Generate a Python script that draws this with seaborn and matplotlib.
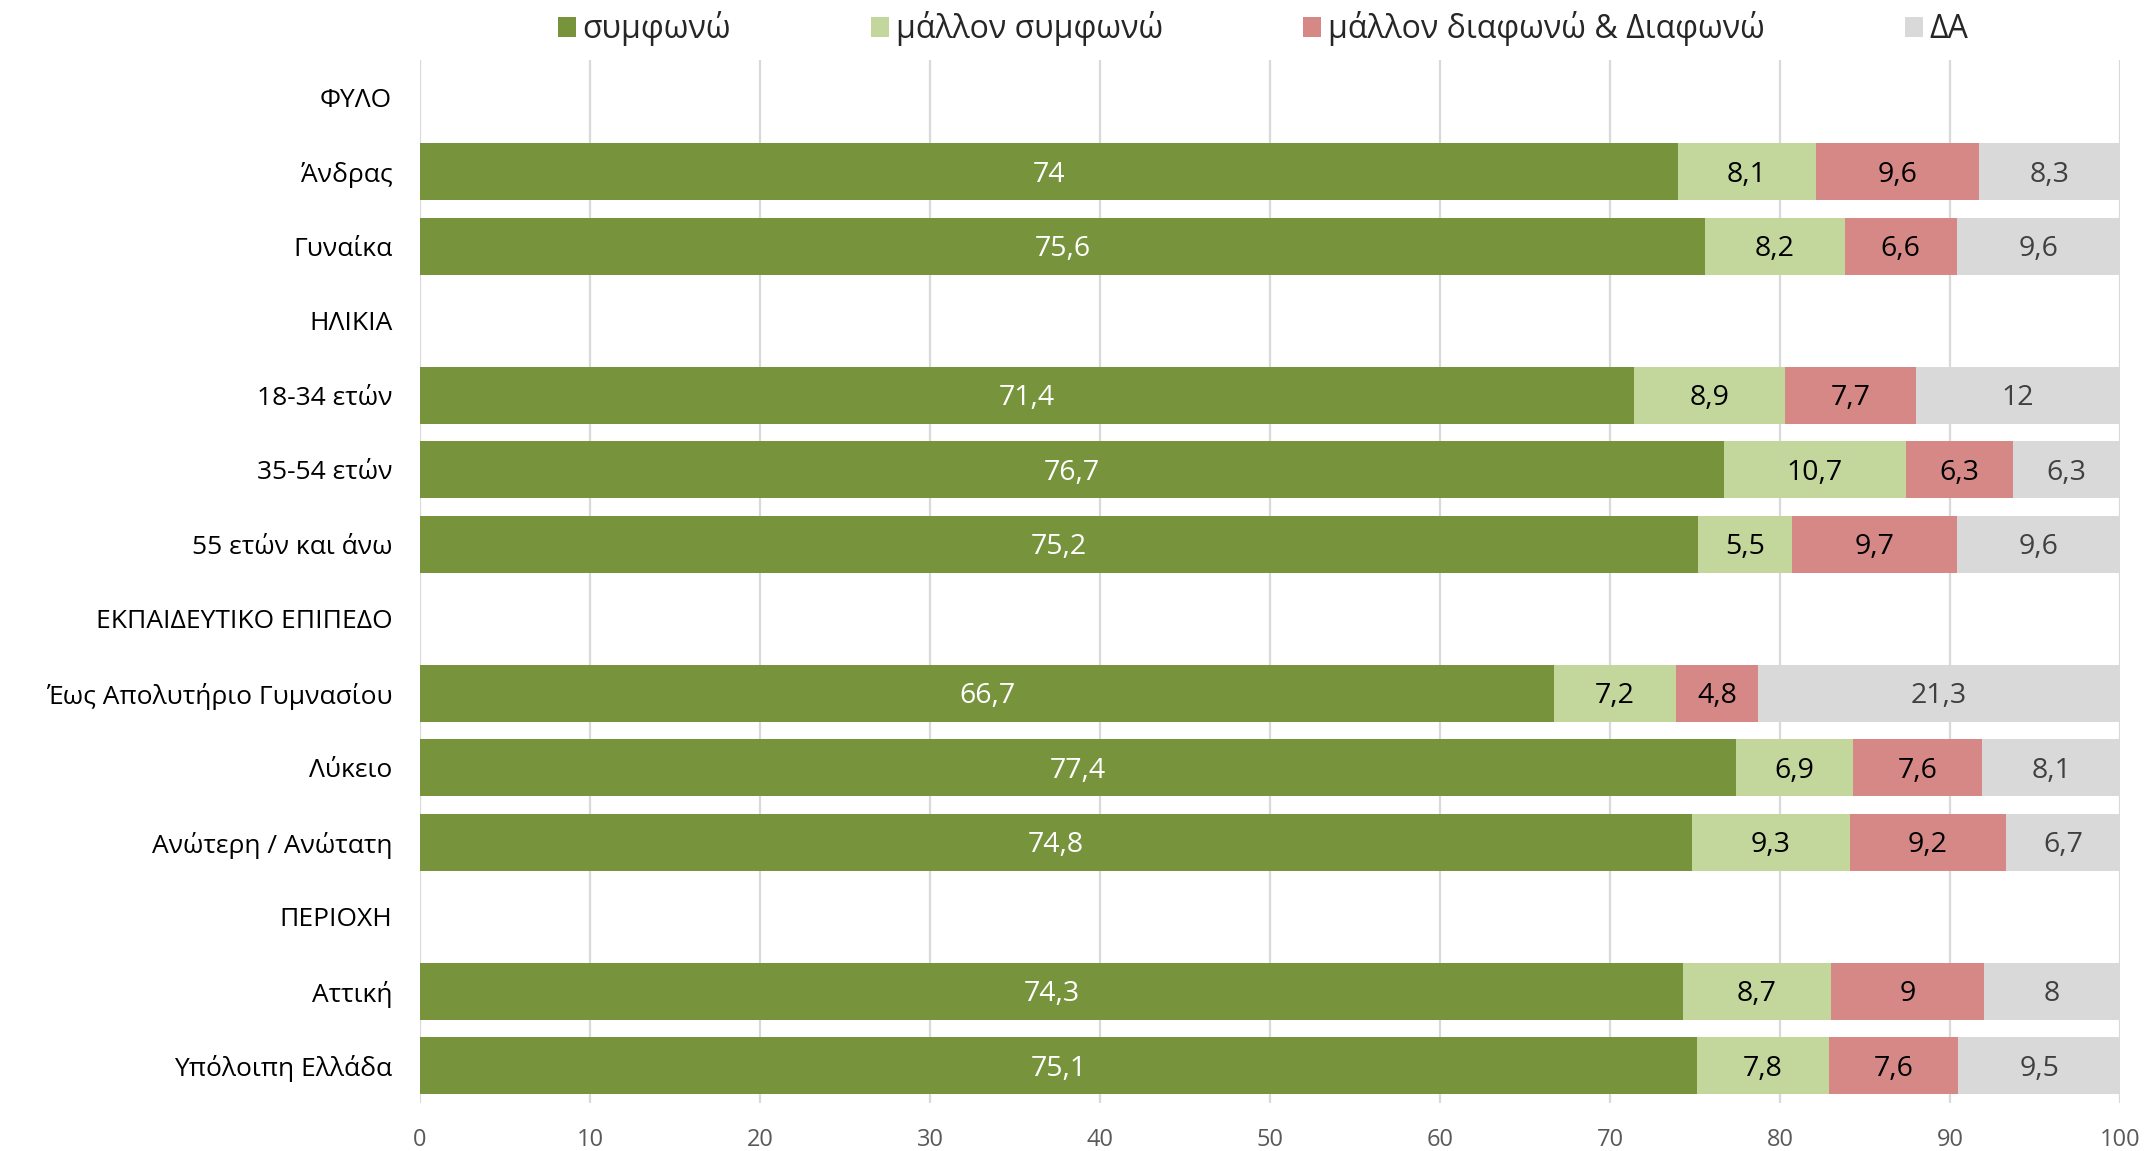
import numpy as np
import pandas as pd
import matplotlib
matplotlib.use("Agg")
import matplotlib.pyplot as plt
import seaborn as sns
from matplotlib.patches import Patch

categories = ["ΦΥΛΟ", "Άνδρας", "Γυναίκα", "ΗΛΙΚΙΑ", "18-34 ετών", "35-54 ετών",
              "55 ετών και άνω", "ΕΚΠΑΙΔΕΥΤΙΚΟ ΕΠΙΠΕΔΟ", "Έως Απολυτήριο Γυμνασίου",
              "Λύκειο", "Ανώτερη / Ανώτατη", "ΠΕΡΙΟΧΗ", "Αττική", "Υπόλοιπη Ελλάδα"]
series_names = ["συμφωνώ", "μάλλον συμφωνώ", "μάλλον διαφωνώ & Διαφωνώ", "ΔΑ"]
agree = [np.nan, 74, 75.6, np.nan, 71.4, 76.7, 75.2, np.nan, 66.7, 77.4, 74.8, np.nan, 74.3, 75.1]
rather_agree = [np.nan, 8.1, 8.2, np.nan, 8.9, 10.7, 5.5, np.nan, 7.2, 6.9, 9.3, np.nan, 8.7, 7.8]
disagree = [np.nan, 9.6, 6.6, np.nan, 7.7, 6.3, 9.7, np.nan, 4.8, 7.6, 9.2, np.nan, 9, 7.6]
dont_know = [np.nan, 8.3, 9.6, np.nan, 12, 6.3, 9.6, np.nan, 21.3, 8.1, 6.7, np.nan, 8, 9.5]
x_ticks = [0, 10, 20, 30, 40, 50, 60, 70, 80, 90, 100]

colors = ["#77933C", "#C3D69B", "#D58886", "#D9D9D9"]
label_colors = ["white", "black", "black", "#404040"]

sns.set_theme(style="white")
plt.rcParams["font.family"] = ["Open Sans", "DejaVu Sans"]

fig = plt.figure(figsize=(21.46, 11.51), dpi=100)
ax = fig.add_axes([420 / 2146, 1 - 1103 / 1151, 1700 / 2146, 1043 / 1151])

data = np.array([agree, rather_agree, disagree, dont_know], dtype=float)
cum = np.cumsum(data, axis=0)

# draw stacked bars: largest cumulative first
for i in range(3, -1, -1):
    df = pd.DataFrame({"cat": categories, "val": cum[i]})
    sns.barplot(data=df, x="val", y="cat", order=categories, orient="h",
                color=colors[i], saturation=1, width=0.77, errorbar=None,
                linewidth=0, ax=ax)

def fmt(v):
    if float(v).is_integer():
        return str(int(v))
    return f"{v:.1f}".replace(".", ",")

for i in range(4):
    for j, cat in enumerate(categories):
        v = data[i, j]
        if np.isnan(v):
            continue
        start = cum[i, j] - v
        ax.text(start + v / 2, j + 0.04, fmt(v), ha="center", va="center",
                fontsize=20.5, color=label_colors[i])

ax.set_xlim(0, 100)
ax.set_xticks(x_ticks)
ax.set_xticklabels([str(t) for t in x_ticks])
ax.set_ylim(len(categories) - 0.5, -0.5)
ax.set_xlabel("")
ax.set_ylabel("")
ax.grid(axis="x", color="#D9D9D9", linewidth=1.6)
ax.grid(axis="y", visible=False)
ax.set_axisbelow(True)
for s in ax.spines.values():
    s.set_visible(False)
ax.tick_params(axis="x", length=0, pad=18, labelsize=17, labelcolor="#595959")
ax.tick_params(axis="y", length=0, pad=20, labelsize=19, labelcolor="black")

handles = [Patch(facecolor=c, edgecolor="none") for c in colors]
fig.legend(handles, series_names, loc="center", bbox_to_anchor=(0.5886, 1 - 29 / 1151),
           ncol=4, frameon=False, fontsize=23, handlelength=0.56, handleheight=0.56,
           handletextpad=0.2, columnspacing=4.4, borderaxespad=0)

fig.savefig("out.png", dpi=100)
